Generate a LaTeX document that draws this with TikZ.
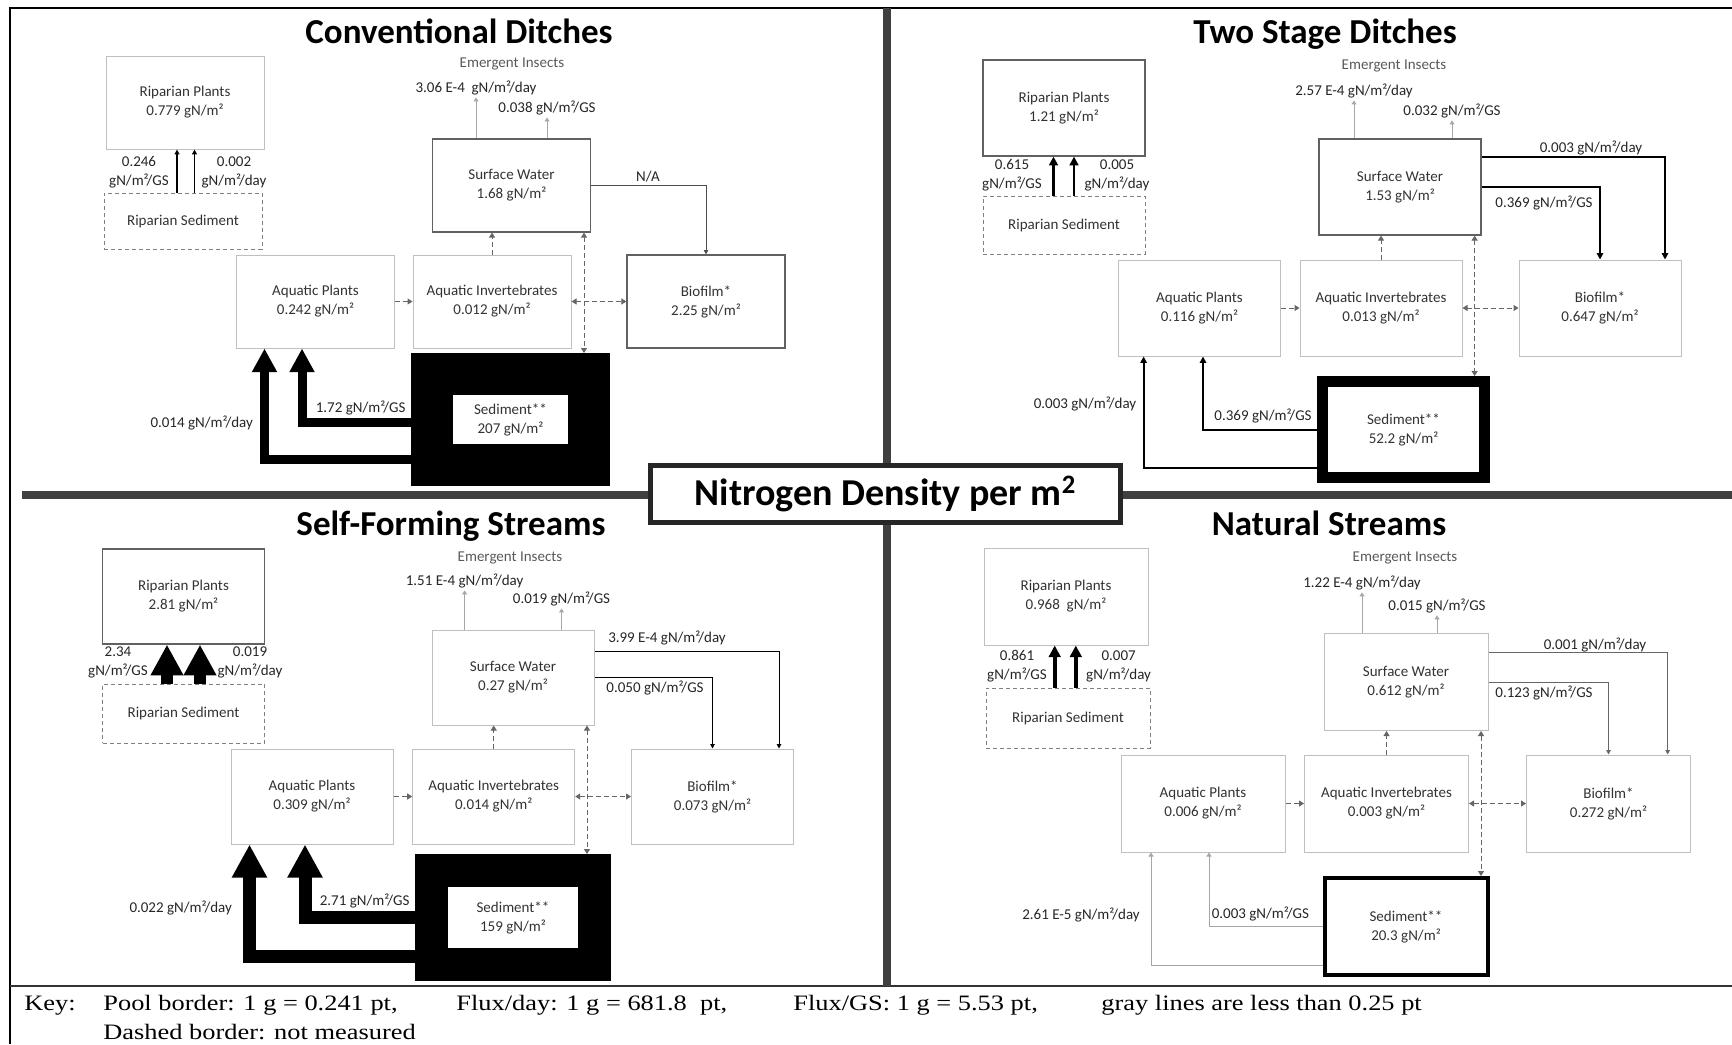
\documentclass[tikz,border=0pt]{standalone}
\usepackage{fontspec}
\setmainfont{Carlito}
\newfontfamily\keyfont{Liberation Serif}
\usetikzlibrary{arrows.meta}

\begin{document}
\begin{tikzpicture}[
    x=0.5pt, y=-0.5pt,
    font=\fontsize{7.5}{9.5}\selectfont,
    box/.style={minimum width=80pt, minimum height=47.5pt},
    pool/.style={rectangle, draw=black!25, line width=0.5pt, box, align=center, text=black!80, inner sep=1pt},
    dpool/.style={pool, draw=black!62, line width=0.6pt},
    unmeasured/.style={pool, draw=black!50, dash pattern=on 2pt off 1.5pt},
    sediment/.style={pool, draw=black, fill=white},
    flux/.style={-{Triangle[width=1pt 2.4, length=1pt 2.4]}, black, line width=0.6pt},
    gflux/.style={-{Triangle[width=2.5pt, length=2pt]}, black!35, line width=0.5pt},
    dashflow/.style={-{Triangle[width=3pt, length=2.5pt]}, black!60, line width=0.5pt, dash pattern=on 2.5pt off 1.5pt},
    exchange/.style={dashflow, {Triangle[width=3pt, length=2.5pt]}-{Triangle[width=3pt, length=2.5pt]}},
    lbl/.style={align=center, text=black!85, inner sep=1pt},
    title/.style={font=\fontsize{17.5}{20}\selectfont\bfseries, anchor=base},
    keytext/.style={font=\keyfont\fontsize{11}{13}\selectfont, anchor=base west, inner sep=0pt},
    divider/.style={black!75, line width=4.2pt}
]
    \fill[white] (0,0) rectangle (1732,1044);
    \useasboundingbox (0,0) rectangle (1732,1044);

    \draw[black, line width=1pt] (1732,8) -- (10,8) -- (10,1044);
    \draw[black!80, line width=0.8pt] (10,986) -- (1732,986);
    \draw[divider] (887,8) -- (887,986);
    \draw[divider] (22,495) -- (1732,495);
    \node[draw=black!85, line width=2.5pt, fill=white, minimum width=235pt, minimum height=28.5pt,
          font=\fontsize{19}{22}\selectfont\bfseries] (heading) at (885.5,494) {Nitrogen Density per m\textsuperscript{2}};

    \begin{scope}[box/.style={minimum width=79pt, minimum height=46.5pt}]
        \node[title] (cd-title) at (459,43) {Conventional Ditches};
        \node[pool] (cd-rp) at (185,102.5) {Riparian Plants\\0.779 gN/m²};
        \node[unmeasured, minimum height=28pt] (cd-rs) at (183,221) {Riparian Sediment};
        \node[dpool] (cd-sw) at (511.5,185.5) {Surface Water\\1.68 gN/m²};
        \node[pool] (cd-ap) at (315.5,301.5) {Aquatic Plants\\0.242 gN/m²};
        \node[pool] (cd-ai) at (492,301.5) {Aquatic Invertebrates\\0.012 gN/m²};
        \node[dpool] (cd-bf) at (706,301.5) {Biofilm*\\2.25 gN/m²};
        \node[sediment, line width=21pt, minimum width=78.5pt, minimum height=45.5pt] (cd-sed) at (510.5,419.5) {Sediment**\\207 gN/m²};

        \node[lbl, text=black!65] (cd-ei) at (512,64) {Emergent Insects};
        \node[lbl] (cd-eday) at (476,88) {3.06 E-4~ gN/m²/day};
        \node[lbl] (cd-egs) at (547,108) {0.038 gN/m²/GS};
        \node[lbl] (cd-rgs) at (139,172) {0.246\\gN/m²/GS};
        \node[lbl] (cd-rday) at (234,172) {0.002\\gN/m²/day};
        \node[lbl] (cd-na) at (648,177) {N/A};
        \node[lbl] (cd-sday) at (201.7,423) {0.014 gN/m²/day};
        \node[lbl] (cd-sgs) at (360.6,408) {1.72 gN/m²/GS};

        \draw[flux] (cd-rs.north -| 177,0) -- (cd-rp.south -| 177,0);
        \draw[flux] (cd-rs.north -| 194.5,0) -- (cd-rp.south -| 194.5,0);
        \draw[gflux] (cd-sw.north -| cd-eday.south) -- (cd-eday.south);
        \draw[gflux] (cd-sw.north -| cd-egs.south) -- (cd-egs.south);
        \draw[flux, black!70, line width=0.5pt] (cd-sw.east) -| (cd-bf.north);
        \draw[dashflow] (cd-ap) -- (cd-ai);
        \draw[dashflow] (cd-ai) -- (cd-ai |- cd-sw.south);
        \draw[exchange] (cd-sw.south -| 584,0) -- (cd-sed.north -| 584,0);
        \draw[exchange] (cd-ai) -- (cd-bf);
        \draw[flux, line width=4.5pt] (cd-sed.west |- 0,459) -| (cd-ap.south -| 264.5,0);
        \draw[flux, line width=4.5pt] (cd-sed.west |- 0,422) -| (cd-ap.south -| 302,0);
    \end{scope}

    \begin{scope}[box/.style={minimum width=81pt, minimum height=48pt}]
        \node[title] (ts-title) at (1325,43) {Two Stage Ditches};
        \node[dpool] (ts-rp) at (1064,108) {Riparian Plants\\1.21 gN/m²};
        \node[unmeasured, minimum height=29pt] (ts-rs) at (1064,225) {Riparian Sediment};
        \node[dpool] (ts-sw) at (1400,187) {Surface Water\\1.53 gN/m²};
        \node[pool] (ts-ap) at (1199.5,308) {Aquatic Plants\\0.116 gN/m²};
        \node[pool] (ts-ai) at (1381,308) {Aquatic Invertebrates\\0.013 gN/m²};
        \node[pool] (ts-bf) at (1600,308) {Biofilm*\\0.647 gN/m²};
        \node[sediment, line width=5.3pt, minimum width=81.2pt, minimum height=48.2pt] (ts-sed) at (1403.5,429.5) {Sediment**\\52.2 gN/m²};

        \node[lbl, text=black!65] (ts-ei) at (1394,66) {Emergent Insects};
        \node[lbl] (ts-eday) at (1354,91) {2.57 E-4 gN/m²/day};
        \node[lbl] (ts-egs) at (1452,111) {0.032 gN/m²/GS};
        \node[lbl] (ts-rgs) at (1012,175) {0.615\\gN/m²/GS};
        \node[lbl] (ts-rday) at (1117,175) {0.005\\gN/m²/day};
        \node[lbl] (ts-bday) at (1591,148) {0.003 gN/m²/day};
        \node[lbl] (ts-bgs) at (1544,203) {0.369 gN/m²/GS};
        \node[lbl] (ts-sgs) at (1263,416) {0.369 gN/m²/GS};
        \node[lbl] (ts-sday) at (1085,404) {0.003 gN/m²/day};

        \draw[flux, line width=1.4pt] (ts-rs.north -| 1053.5,0) -- (ts-rp.south -| 1053.5,0);
        \draw[flux, line width=1.4pt] (ts-rs.north -| 1074,0) -- (ts-rp.south -| 1074,0);
        \draw[gflux] (ts-sw.north -| ts-eday.south) -- (ts-eday.south);
        \draw[gflux] (ts-sw.north -| ts-egs.south) -- (ts-egs.south);
        \draw[flux, line width=0.9pt] (ts-sw.east |- 0,157) -| (ts-bf.north -| 1665,0);
        \draw[flux, line width=0.9pt] (ts-sw.east) -| (ts-bf.north);
        \draw[dashflow] (ts-ap) -- (ts-ai);
        \draw[dashflow] (ts-ai) -- (ts-ai |- ts-sw.south);
        \draw[exchange] (ts-sw.south -| 1474.6,0) -- (ts-sed.north -| 1474.6,0);
        \draw[exchange] (ts-ai) -- (ts-bf);
        \draw[flux, line width=0.9pt] (ts-sed.west |- 0,430) -| (ts-ap.south -| 1203,0);
        \draw[flux, line width=0.9pt] (ts-sed.west |- 0,468) -| (ts-ap.south -| 1143.6,0);
    \end{scope}

    \begin{scope}[box/.style={minimum width=81pt, minimum height=47.5pt}]
        \node[title] (sf-title) at (451,535) {Self-Forming Streams};
        \node[dpool] (sf-rp) at (183.5,596.5) {Riparian Plants\\2.81 gN/m²};
        \node[unmeasured, minimum height=29.5pt] (sf-rs) at (183.5,713.5) {Riparian Sediment};
        \node[pool] (sf-sw) at (513,677.5) {Surface Water\\0.27 gN/m²};
        \node[pool] (sf-ap) at (312,796.5) {Aquatic Plants\\0.309 gN/m²};
        \node[pool] (sf-ai) at (493.7,796.5) {Aquatic Invertebrates\\0.014 gN/m²};
        \node[pool] (sf-bf) at (712.5,796.5) {Biofilm*\\0.073 gN/m²};
        \node[sediment, line width=16.5pt, minimum width=81.5pt, minimum height=47pt] (sf-sed) at (513,917.5) {Sediment**\\159 gN/m²};

        \node[lbl, text=black!65] (sf-ei) at (510,558) {Emergent Insects};
        \node[lbl] (sf-eday) at (464.6,581) {1.51 E-4 gN/m²/day};
        \node[lbl] (sf-egs) at (561.5,599) {0.019 gN/m²/GS};
        \node[lbl] (sf-rgs) at (118,662) {2.34\\gN/m²/GS};
        \node[lbl] (sf-rday) at (250,662) {0.019\\gN/m²/day};
        \node[lbl] (sf-bday) at (667,638) {3.99 E-4 gN/m²/day};
        \node[lbl] (sf-bgs) at (655,688) {0.050 gN/m²/GS};
        \node[lbl] (sf-sday) at (180.7,908) {0.022 gN/m²/day};
        \node[lbl] (sf-sgs) at (364.6,901) {2.71 gN/m²/GS};

        \draw[flux, line width=6pt] (sf-rs.north -| 167,0) -- (sf-rp.south -| 167,0);
        \draw[flux, line width=6pt] (sf-rs.north -| 200,0) -- (sf-rp.south -| 200,0);
        \draw[gflux] (sf-sw.north -| sf-eday.south) -- (sf-eday.south);
        \draw[gflux] (sf-sw.north -| sf-egs.south) -- (sf-egs.south);
        \draw[flux, line width=0.5pt] (sf-sw.east |- 0,651) -| (sf-bf.north -| 779,0);
        \draw[flux, line width=0.5pt] (sf-sw.east) -| (sf-bf.north);
        \draw[dashflow] (sf-ap) -- (sf-ai);
        \draw[dashflow] (sf-ai) -- (sf-ai |- sf-sw.south);
        \draw[exchange] (sf-sw.south -| 587,0) -- (sf-sed.north -| 587,0);
        \draw[exchange] (sf-ai) -- (sf-bf);
        \draw[flux, line width=6.5pt] (sf-sed.west |- 0,956) -| (sf-ap.south -| 249.5,0);
        \draw[flux, line width=6.5pt] (sf-sed.west |- 0,917) -| (sf-ap.south -| 305,0);
    \end{scope}

    \begin{scope}[box/.style={minimum width=82pt, minimum height=48.5pt}]
        \node[title] (ns-title) at (1329,535) {Natural Streams};
        \node[pool] (ns-rp) at (1066,596.5) {Riparian Plants\\0.968~ gN/m²};
        \node[unmeasured, minimum height=30pt] (ns-rs) at (1068,718) {Riparian Sediment};
        \node[pool] (ns-sw) at (1406,682) {Surface Water\\0.612 gN/m²};
        \node[pool] (ns-ap) at (1203,803.5) {Aquatic Plants\\0.006 gN/m²};
        \node[pool] (ns-ai) at (1386.5,803.5) {Aquatic Invertebrates\\0.003 gN/m²};
        \node[pool] (ns-bf) at (1608.5,803.5) {Biofilm*\\0.272 gN/m²};
        \node[sediment, line width=2pt, minimum width=81.5pt, minimum height=48.5pt] (ns-sed) at (1406,926.5) {Sediment**\\20.3 gN/m²};

        \node[lbl, text=black!65] (ns-ei) at (1405,558) {Emergent Insects};
        \node[lbl] (ns-eday) at (1362,583) {1.22 E-4 gN/m²/day};
        \node[lbl] (ns-egs) at (1437,606) {0.015 gN/m²/GS};
        \node[lbl] (ns-rgs) at (1017,666) {0.861\\gN/m²/GS};
        \node[lbl] (ns-rday) at (1118.6,666) {0.007\\gN/m²/day};
        \node[lbl] (ns-bday) at (1595,645) {0.001 gN/m²/day};
        \node[lbl] (ns-bgs) at (1544,693) {0.123 gN/m²/GS};
        \node[lbl] (ns-sgs) at (1260.4,914) {0.003 gN/m²/GS};
        \node[lbl] (ns-sday) at (1081,915) {2.61 E-5 gN/m²/day};

        \draw[flux, line width=2pt] (ns-rs.north -| 1054.7,0) -- (ns-rp.south -| 1054.7,0);
        \draw[flux, line width=2pt] (ns-rs.north -| 1075.8,0) -- (ns-rp.south -| 1075.8,0);
        \draw[gflux] (ns-sw.north -| ns-eday.south) -- (ns-eday.south);
        \draw[gflux] (ns-sw.north -| ns-egs.south) -- (ns-egs.south);
        \draw[flux, black!60, line width=0.5pt] (ns-sw.east |- 0,652.7) -| (ns-bf.north -| 1667.6,0);
        \draw[flux, black!60, line width=0.5pt] (ns-sw.east) -| (ns-bf.north);
        \draw[dashflow] (ns-ap) -- (ns-ai);
        \draw[dashflow] (ns-ai) -- (ns-ai |- ns-sw.south);
        \draw[exchange] (ns-sw.south -| 1481,0) -- (ns-sed.north -| 1481,0);
        \draw[exchange] (ns-ai) -- (ns-bf);
        \draw[gflux] (ns-sed.west) -| (ns-ap.south -| 1209,0);
        \draw[gflux] (ns-sed.west |- 0,965) -| (ns-ap.south -| 1151,0);
    \end{scope}

    \node[keytext] (key) at (24,1010) {\scalebox{1.2}[1]{Key:}};
    \node[keytext] (key-pool) at (103,1010) {\scalebox{1.2}[1]{Pool border: 1 g = 0.241 pt,}};
    \node[keytext] (key-day) at (456,1010) {\scalebox{1.2}[1]{Flux/day: 1 g = 681.8~ pt,}};
    \node[keytext] (key-gs) at (793,1010) {\scalebox{1.2}[1]{Flux/GS: 1 g = 5.53 pt,}};
    \node[keytext] (key-gray) at (1101,1010) {\scalebox{1.2}[1]{gray lines are less than 0.25 pt}};
    \node[keytext] (key-dash) at (103,1039) {\scalebox{1.2}[1]{Dashed border: not measured}};
\end{tikzpicture}
\end{document}
